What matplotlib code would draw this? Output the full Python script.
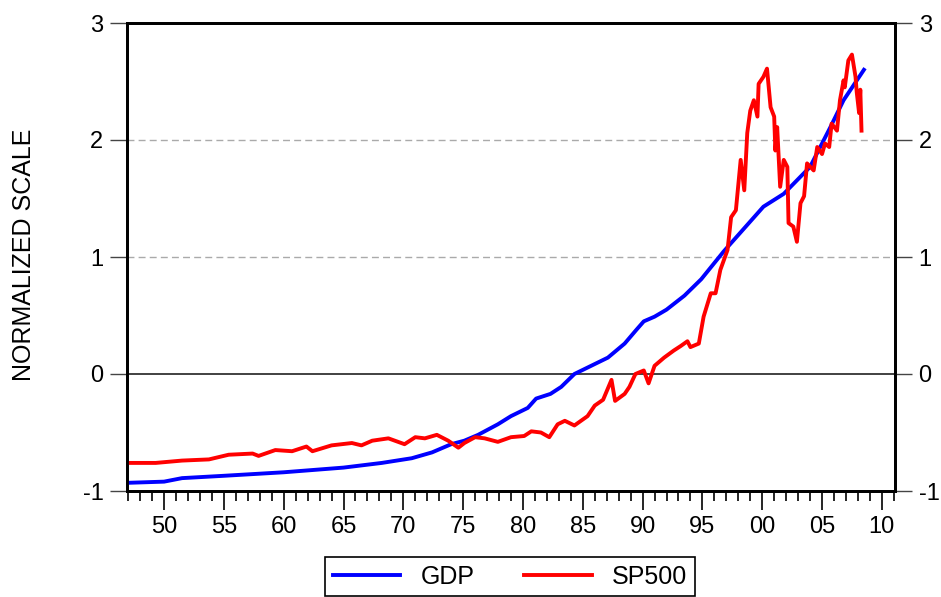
# GDP と SP500 の正規化スケール比較 (EViews 風)
import numpy as np
import matplotlib.pyplot as plt
from matplotlib.ticker import MultipleLocator, FuncFormatter

plt.rcParams['font.family'] = ['Liberation Sans', 'DejaVu Sans']
plt.rcParams['axes.unicode_minus'] = False

# GDP (四半期っぽい) 読み取り値
gdp_year = [1947.0, 1950.0, 1951.5, 1955.0, 1960.0, 1965.0, 1968.2, 1970.7,
            1972.4, 1974.0, 1975.1, 1976.25, 1977.9, 1979.0, 1980.4, 1981.1,
            1982.3, 1983.2, 1984.3, 1985.5, 1987.1, 1988.5, 1989.5, 1990.1,
            1991.0, 1992.0, 1993.5, 1994.9, 1996.8, 2000.1, 2001.8, 2004.0,
            2005.7, 2006.8, 2008.5]
gdp_val = [-0.93, -0.92, -0.89, -0.87, -0.84, -0.80, -0.76, -0.72,
           -0.67, -0.60, -0.57, -0.52, -0.43, -0.36, -0.29, -0.21,
           -0.17, -0.11, 0.00, 0.06, 0.14, 0.26, 0.38, 0.45,
           0.49, 0.55, 0.67, 0.81, 1.05, 1.43, 1.54, 1.77,
           2.11, 2.34, 2.60]

# SP500 読み取り値
sp_year = [1947.0, 1949.3, 1951.5, 1953.75, 1955.4, 1957.4, 1957.9, 1959.3,
           1960.7, 1961.9, 1962.4, 1964.0, 1965.7, 1966.5, 1967.4, 1968.75,
           1970.1, 1971.0, 1971.8, 1972.8, 1973.75, 1974.6, 1975.1, 1976.0,
           1976.8, 1977.9, 1979.0, 1980.1, 1980.7, 1981.5, 1982.2, 1982.9,
           1983.5, 1984.3, 1985.4, 1986.0, 1986.7, 1987.4, 1987.7, 1988.5,
           1988.9, 1989.4, 1990.1, 1990.5, 1991.0, 1991.8, 1992.6, 1993.2,
           1993.75, 1994.0, 1994.7, 1995.1, 1995.7, 1996.1, 1996.5, 1997.1,
           1997.4, 1997.8, 1998.2, 1998.5, 1998.75, 1999.0, 1999.3, 1999.6,
           1999.7, 2000.1, 2000.4, 2000.7, 2001.0, 2001.1, 2001.25, 2001.5,
           2001.8, 2002.1, 2002.2, 2002.6, 2002.9, 2003.2, 2003.5, 2003.75,
           2004.3, 2004.6, 2005.0, 2005.25, 2005.6, 2005.8, 2006.25, 2006.5,
           2006.8, 2006.9, 2007.2, 2007.5, 2007.8, 2007.9, 2008.1, 2008.2,
           2008.3]
sp_val = [-0.76, -0.76, -0.74, -0.73, -0.69, -0.68, -0.70, -0.65,
          -0.66, -0.62, -0.66, -0.61, -0.59, -0.61, -0.57, -0.55,
          -0.60, -0.54, -0.55, -0.52, -0.57, -0.63, -0.59, -0.54,
          -0.55, -0.58, -0.54, -0.53, -0.49, -0.50, -0.54, -0.43,
          -0.40, -0.44, -0.36, -0.27, -0.22, -0.05, -0.23, -0.17,
          -0.11, 0.00, 0.03, -0.08, 0.07, 0.14, 0.20, 0.24,
          0.28, 0.23, 0.26, 0.49, 0.69, 0.69, 0.89, 1.06,
          1.34, 1.40, 1.83, 1.57, 2.06, 2.25, 2.34, 2.20,
          2.48, 2.54, 2.61, 2.28, 2.20, 1.91, 2.11, 1.60,
          1.83, 1.77, 1.29, 1.26, 1.13, 1.46, 1.52, 1.80,
          1.74, 1.94, 1.88, 1.97, 1.94, 2.14, 2.08, 2.34,
          2.51, 2.45, 2.68, 2.73, 2.54, 2.41, 2.23, 2.43,
          2.08]

y_ticks = [-1, 0, 1, 2, 3]

fig = plt.figure(figsize=(9.41, 5.97), dpi=100)
ax = fig.add_axes([127 / 941, 1 - 491 / 597, (895 - 127) / 941, (491 - 23) / 597])

# グリッド (1, 2 は破線, 0 は実線)
for v in [1, 2]:
    ax.axhline(v, color='#aaaaaa', lw=1.0, ls=(0, (5, 3)), zorder=1)
ax.axhline(0, color='#333333', lw=1.3, zorder=1)

ax.plot(gdp_year, gdp_val, color='#0000ff', lw=2.8, label='GDP', zorder=3)
ax.plot(sp_year, sp_val, color='#ff0000', lw=2.8, label='SP500', zorder=4)

ax.set_xlim(1946.9, 2011.1)
ax.set_ylim(-1, 3)
ax.set_yticks(y_ticks)
ax.xaxis.set_major_locator(MultipleLocator(5))
ax.xaxis.set_minor_locator(MultipleLocator(1))
ax.xaxis.set_major_formatter(FuncFormatter(lambda x, p: '%02d' % (int(round(x)) % 100)))
ax.tick_params(axis='x', which='major', length=14, width=1.2, labelsize=17, pad=4)
ax.tick_params(axis='x', which='minor', length=7, width=1.2)
ax.tick_params(axis='y', length=12, width=1.0, color='#444444', labelsize=17, pad=5)
for s in ax.spines.values():
    s.set_linewidth(2.0)
    s.set_color('black')

ax2 = ax.twinx()
ax2.set_ylim(-1, 3)
ax2.set_yticks(y_ticks)
ax2.tick_params(axis='y', length=12, width=1.0, color='#444444', labelsize=17, pad=5)
for s in ax2.spines.values():
    s.set_linewidth(2.0)

fig.text(24 / 941, 1 - 255 / 597, 'NORMALIZED SCALE', rotation=90,
         ha='center', va='center', fontsize=18)

# 凡例は下端で切れる (元図と同じ)
leg = fig.legend(loc='upper center', bbox_to_anchor=(510 / 941, 1 - 557 / 597),
                 ncol=2, fontsize=18, frameon=True, fancybox=False,
                 edgecolor='black', framealpha=1, handlelength=2.7,
                 columnspacing=2.0, borderpad=0.3, borderaxespad=0.0)
leg.get_frame().set_linewidth(1.2)

fig.savefig('out.png', dpi=100)
